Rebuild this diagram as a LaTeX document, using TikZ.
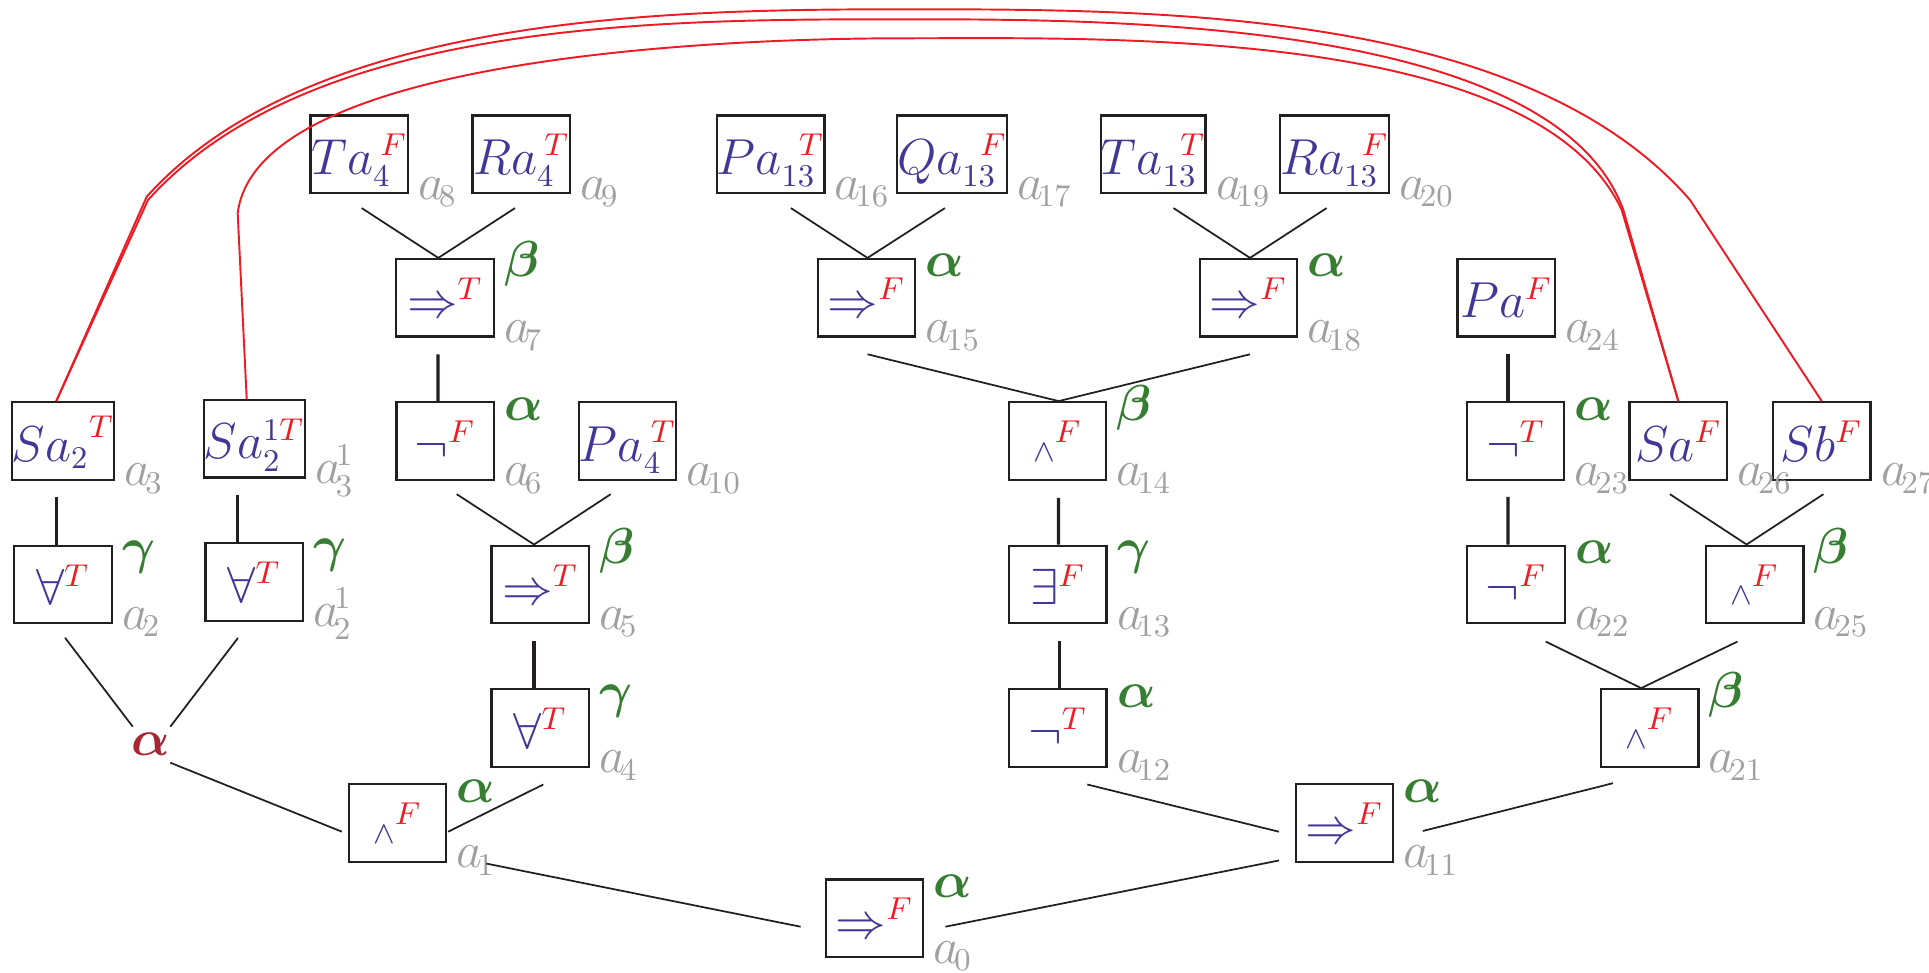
\documentclass[tikz,border=0pt]{standalone}
\usepackage{amsmath,amssymb}
\usepackage{tikz}
\usetikzlibrary{calc,positioning}

\definecolor{fblue}{RGB}{64,55,150}
\definecolor{sred}{RGB}{237,28,36}
\definecolor{rgreen}{RGB}{55,125,50}
\definecolor{rdark}{RGB}{165,40,50}
\definecolor{igray}{RGB}{160,160,160}
\definecolor{lnblack}{RGB}{35,31,32}

\newcommand{\tval}[1]{\textcolor{sred}{#1}}

\begin{document}
\begin{tikzpicture}[
    font=\fontsize{13.5}{16}\selectfont,
    fm/.style={draw=lnblack, line width=0.65pt, minimum width=0.975cm, minimum height=0.775cm, inner sep=0pt, text=fblue, text height=0.4cm, text depth=0cm},
    gk/.style={anchor=base west, inner sep=0pt, text=rgreen},
    ix/.style={anchor=base west, inner sep=0pt, text=igray},
    ln/.style={draw=lnblack, line width=0.5pt},
    vl/.style={draw=lnblack, line width=0.9pt},
    rl/.style={draw=sred, line width=0.55pt}
]
\useasboundingbox (0,0) rectangle (19.29,9.72);

% left branch
\node[fm] (a0) at (8.745,0.537) {$\Rightarrow^{\tval{F}}$};
\node[fm] (a1) at (3.975,1.49) {${\scriptstyle\wedge}^{\tval{F}}$};
\node[text=rdark] (ra) at (1.51,2.28) {$\boldsymbol{\alpha}$};
\node[fm] (a2) at (0.63,3.876) {$\forall^{\tval{T}}$};
\node[fm] (a2b) at (2.542,3.90) {$\forall^{\tval{T}}$};
\node[fm] (a3) at (0.63,5.31) {${Sa_2}^{\tval{T}}$};
\node[fm] (a3b) at (2.542,5.332) {$Sa_2^{1\tval{T}}$};
\node[fm] (a4) at (5.403,2.44) {$\forall^{\tval{T}}$};
\node[fm] (a5) at (5.403,3.876) {$\Rightarrow^{\tval{T}}$};
\node[fm] (a6) at (4.453,5.31) {$\neg^{\tval{F}}$};
\node[fm] (a7) at (4.45,6.742) {$\Rightarrow^{\tval{T}}$};
\node[fm] (a8) at (3.593,8.178) {$Ta_4^{\kern2pt\tval{F}}$};
\node[fm] (a9) at (5.213,8.178) {$Ra_4^{\kern2pt\tval{T}}$};
\node[fm] (a10) at (6.275,5.31) {$Pa_4^{\kern2pt\tval{T}}$};

% right branch
\node[fm] (a11) at (13.445,1.49) {$\Rightarrow^{\tval{F}}$};
\node[fm] (a12) at (10.577,2.44) {$\neg^{\tval{T}}$};
\node[fm] (a13) at (10.577,3.876) {$\exists^{\tval{F}}$};
\node[fm] (a14) at (10.575,5.31) {${\scriptstyle\wedge}^{\tval{F}}$};
\node[fm] (a15) at (8.665,6.742) {$\Rightarrow^{\tval{F}}$};
\node[fm] (a16) at (7.706,8.178) {$Pa_{13}^{\kern5pt\tval{T}}$};
\node[fm] (a17) at (9.521,8.178) {$Qa_{13}^{\kern5pt\tval{F}}$};
\node[fm] (a18) at (12.484,6.742) {$\Rightarrow^{\tval{F}}$};
\node[fm] (a19) at (11.532,8.178) {$Ta_{13}^{\kern5pt\tval{T}}$};
\node[fm] (a20) at (13.345,8.178) {$Ra_{13}^{\kern5pt\tval{F}}$};
\node[fm] (a21) at (16.496,2.44) {${\scriptstyle\wedge}^{\tval{F}}$};
\node[fm] (a22) at (15.16,3.876) {$\neg^{\tval{F}}$};
\node[fm] (a23) at (15.155,5.31) {$\neg^{\tval{T}}$};
\node[fm] (a24) at (15.063,6.743) {$Pa^{\tval{F}}$};
\node[fm] (a25) at (17.546,3.876) {${\scriptstyle\wedge}^{\tval{F}}$};
\node[fm] (a26) at (16.783,5.31) {$Sa^{\tval{F}}$};
\node[fm] (a27) at (18.217,5.31) {$Sb^{\tval{F}}$};

% rule types and labels
\foreach \n/\g in {a0/\alpha, a1/\alpha, a2/\gamma, a2b/\gamma, a4/\gamma, a5/\beta, a6/\alpha, a7/\beta, a11/\alpha, a12/\alpha, a13/\gamma, a14/\beta, a15/\alpha, a18/\alpha, a21/\beta, a22/\alpha, a23/\alpha, a25/\beta}
  \node[gk] (g\n) at ($(\n.north east)+(0.087,-0.19)$) {$\boldsymbol{\g}$};
\foreach \n in {0,...,27}
  \node[ix] (i\n) at ($(a\n.south east)+(0.087,-0.05)$) {$a_{\!\n}$};
\node[ix] (i2b) at ($(a2b.south east)+(0.087,-0.05)$) {$a_{\!2}^{\!1}$};
\node[ix] (i3b) at ($(a3b.south east)+(0.087,-0.05)$) {$a_{\!3}^{\!1}$};

% tree edges
\draw[vl] ($(a3.south)+(-0.064,-0.16)$) -- ($(a2.north)+(-0.064,0)$);
\draw[vl] ($(a3b.south)+(-0.165,-0.16)$) -- ($(a2b.north)+(-0.165,0)$);
\draw[vl] ($(a7.south)+(-0.07,-0.166)$) -- ($(a6.north)+(-0.073,0)$);
\draw[vl] ($(a5.south)+(-0.063,-0.167)$) -- ($(a4.north)+(-0.063,0)$);
\draw[vl] ($(a14.south)+(0.01,-0.17)$) -- ($(a13.north)+(0.008,0)$);
\draw[vl] ($(a13.south)+(0.016,-0.167)$) -- ($(a12.north)+(0.016,0)$);
\draw[vl] ($(a24.south)+(0.017,-0.166)$) -- ($(a23.north)+(-0.075,0)$);
\draw[vl] ($(a23.south)+(-0.075,-0.16)$) -- ($(a22.north)+(-0.08,0)$);

\draw[ln] ($(a8.south)+(0.024,-0.14)$) -- ($(a7.north)+(-0.067,0)$);
\draw[ln] ($(a9.south)+(-0.063,-0.14)$) -- ($(a7.north)+(-0.067,0)$);
\draw[ln] ($(a16.south)+(0.203,-0.14)$) -- ($(a15.north)+(0.01,0)$);
\draw[ln] ($(a17.south)+(-0.072,-0.14)$) -- ($(a15.north)+(0.01,0)$);
\draw[ln] ($(a19.south)+(0.203,-0.14)$) -- ($(a18.north)+(0.016,0)$);
\draw[ln] ($(a20.south)+(-0.079,-0.14)$) -- ($(a18.north)+(0.016,0)$);
\draw[ln] ($(a15.south)+(0.01,-0.166)$) -- ($(a14.north)+(0.012,0)$);
\draw[ln] ($(a18.south)+(0.016,-0.166)$) -- ($(a14.north)+(0.012,0)$);
\draw[ln] ($(a6.south)+(0.114,-0.133)$) -- ($(a5.north)+(-0.063,0)$);
\draw[ln] ($(a10.south)+(-0.168,-0.133)$) -- ($(a5.north)+(-0.063,0)$);
\draw[ln] ($(a26.south)+(-0.084,-0.133)$) -- ($(a25.north)+(-0.08,0)$);
\draw[ln] ($(a27.south)+(0.017,-0.133)$) -- ($(a25.north)+(-0.08,0)$);
\draw[ln] ($(a22.south)+(0.297,-0.173)$) -- ($(a21.north)+(-0.084,0)$);
\draw[ln] ($(a25.south)+(-0.172,-0.173)$) -- ($(a21.north)+(-0.084,0)$);
\draw[ln] ($(a2.south)+(0.02,-0.134)$) -- ($(ra)+(-0.182,0.173)$);
\draw[ln] ($(a2b.south)+(-0.162,-0.16)$) -- ($(ra)+(0.193,0.173)$);
\draw[ln] ($(ra)+(0.193,-0.187)$) -- ($(a1.west)+(-0.057,-0.087)$);
\draw[ln] ($(a4.south)+(0.03,-0.166)$) -- ($(a1.east)+(0.007,-0.087)$);
\draw[ln] ($(a12.south)+(0.296,-0.166)$) -- ($(a11.west)+(-0.157,-0.087)$);
\draw[ln] ($(a21.south)+(-0.366,-0.153)$) -- ($(a11.east)+(0.284,-0.08)$);
\draw[ln] ($(a1.south east)+(0.39,-0.007)$) -- ($(a0.west)+(-0.24,-0.084)$);
\draw[ln] ($(a11.south west)+(-0.157,0.024)$) -- ($(a0.east)+(0.21,-0.084)$);

% closing links
\coordinate (k1) at (1.467,7.753);
\coordinate (k1m) at (1.48,7.72);
\coordinate (p1) at (9.02,9.627);
\coordinate (p2) at (9.02,9.527);
\coordinate (p3) at (9.02,9.337);
\coordinate (k2) at (16.9,7.72);
\coordinate (k2m) at (16.233,7.62);
\coordinate (k3) at (2.377,7.587);
\coordinate (k4) at (16.217,7.62);
\draw[rl] ($(a3.north)+(-0.067,0)$) -- (k1) to[out=48,in=180,looseness=0.8] (p1) to[out=0,in=131,looseness=0.8] (k2) -- (a27.north);
\draw[rl] ($(a3.north)+(-0.067,0)$) -- (k1m) to[out=48,in=180,looseness=0.8] (p2) to[out=0,in=110,looseness=0.7] (k2m) -- (a26.north);
\draw[rl] ($(a3b.north)+(-0.075,0)$) -- (k3) to[out=83,in=180,looseness=0.6] (p3) to[out=0,in=115,looseness=0.7] (k4) -- (a26.north);
\end{tikzpicture}
\end{document}
